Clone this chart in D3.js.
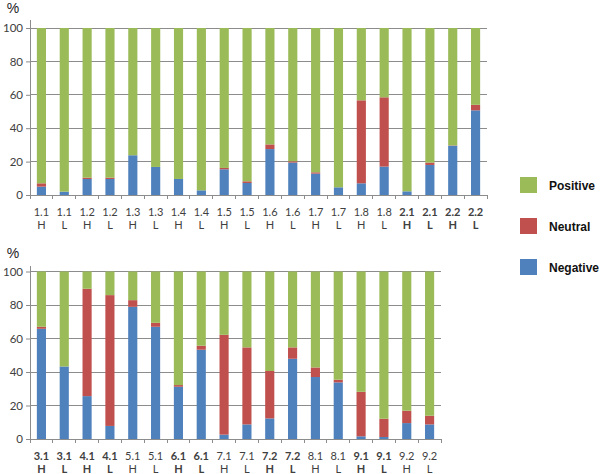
<!DOCTYPE html>
<html>
<head>
<meta charset="utf-8">
<script src="https://cdn.jsdelivr.net/npm/d3@7"></script>
<style>
html,body{margin:0;padding:0;background:#fff;}
svg{display:block;}
</style>
</head>
<body>
<svg id="chart" width="600" height="474"></svg>
<script>
// ---- Data ----
const topCodes   = ["1.1","1.1","1.2","1.2","1.3","1.3","1.4","1.4","1.5","1.5","1.6","1.6","1.7","1.7","1.8","1.8","2.1","2.1","2.2","2.2"];
const topLevels  = ["H","L","H","L","H","L","H","L","H","L","H","L","H","L","H","L","H","L","H","L"];
const topBold    = [0,0,0,0,0,0,0,0,0,0,0,0,0,0,0,0,1,1,1,1];
const topNegative= [5,2,9.6,9.6,23.8,16.8,9.6,2.8,15.4,7.2,27.5,19.4,12.8,4.6,7,17,2.2,18,29.5,50.7];
const topNeutral = [2,0,0.8,0.8,0,0,0,0,0.8,1,2.8,0.8,0.8,0,49.7,41.5,0,1.4,0.2,3.3];

const botCodes   = ["3.1","3.1","4.1","4.1","5.1","5.1","6.1","6.1","7.1","7.1","7.2","7.2","8.1","8.1","9.1","9.1","9.2","9.2"];
const botLevels  = ["H","L","H","L","H","L","H","L","H","L","H","L","H","L","H","L","H","L"];
const botBold    = [1,1,1,1,0,0,1,1,0,0,1,1,0,0,1,1,0,0];
const botNegative= [65.8,43.3,25.6,7.8,78.9,67,31.2,53.3,2.6,8.7,12.3,47.9,37,33.8,1.6,1.2,9.5,8.7];
const botNeutral = [1.2,0,64.1,78.1,4,2.4,1,2.4,59.6,46,28.3,6.8,5.7,1.6,26.6,10.9,7.4,5.2];

const yTicks = [0,20,40,60,80,100];
const seriesNames = ["Positive","Neutral","Negative"];
const seriesColors = {Positive:"#9BBB59", Neutral:"#C0504D", Negative:"#4F81BD"};

// ---- Drawing ----
const svg = d3.select("#chart");
const gridColor = "#8c8c8c";
const textColor = "#404040";
const labelFont = "Lato, 'Open Sans', sans-serif";

function panel(cfg){
  const {codes, levels, bold, neg, neu, x0, x1, yTop, yBase, axisTop, pctY} = cfg;
  const data = codes.map((c,i)=>({id:i, code:c, level:levels[i], bold:bold[i],
    Negative:neg[i], Neutral:neu[i], Positive:Math.max(0,100-neg[i]-neu[i])}));
  const x = d3.scaleBand().domain(data.map(d=>d.id)).range([x0,x1]).paddingInner(0.6).paddingOuter(0.3);
  const y = d3.scaleLinear().domain([0,100]).range([yBase,yTop]);
  const g = svg.append("g");

  // gridlines
  g.selectAll("line.grid").data(yTicks.filter(t=>t>0)).join("line")
    .attr("x1",x0).attr("x2",x1).attr("y1",d=>y(d)).attr("y2",d=>y(d))
    .attr("stroke",gridColor).attr("stroke-width",1).attr("shape-rendering","crispEdges");

  // stacked bars
  const stack = d3.stack().keys(["Negative","Neutral","Positive"]);
  const layers = stack(data);
  g.selectAll("g.layer").data(layers).join("g")
    .attr("fill",d=>seriesColors[d.key])
    .selectAll("rect").data(d=>d).join("rect")
    .attr("x",d=>x(d.data.id)).attr("width",x.bandwidth())
    .attr("y",d=>y(d[1])).attr("height",d=>Math.max(0,y(d[0])-y(d[1])));

  // y axis
  const yAxis = g.append("g").attr("transform",`translate(${x0},0)`)
    .call(d3.axisLeft(y).tickValues(yTicks).tickSize(4).tickPadding(3));
  yAxis.select(".domain").remove();
  yAxis.selectAll(".tick line").attr("stroke",gridColor);
  yAxis.selectAll("text").attr("fill",textColor).style("font-family",labelFont).style("font-size","11.5px");
  g.append("line").attr("x1",x0).attr("x2",x0).attr("y1",axisTop).attr("y2",yBase)
    .attr("stroke",gridColor).attr("shape-rendering","crispEdges");

  // x axis
  const xb = d3.scaleLinear().domain([0,data.length]).range([x0,x1]);
  g.append("line").attr("x1",x0).attr("x2",x1).attr("y1",yBase).attr("y2",yBase)
    .attr("stroke",gridColor).attr("shape-rendering","crispEdges");
  g.selectAll("line.xt").data(d3.range(data.length+1)).join("line")
    .attr("x1",d=>xb(d)).attr("x2",d=>xb(d)).attr("y1",yBase).attr("y2",yBase+4)
    .attr("stroke",gridColor).attr("shape-rendering","crispEdges");
  const lab = g.selectAll("text.xl").data(data).join("text")
    .attr("text-anchor","middle").attr("fill",textColor)
    .style("font-family",labelFont).style("font-size","11px")
    .style("font-weight",d=>d.bold?"bold":"normal");
  lab.append("tspan").attr("x",d=>x(d.id)+x.bandwidth()/2).attr("y",yBase+21).text(d=>d.code);
  lab.append("tspan").attr("x",d=>x(d.id)+x.bandwidth()/2).attr("y",yBase+34).text(d=>d.level);

  // % label
  g.append("text").attr("x",13).attr("y",pctY).attr("text-anchor","middle")
    .attr("fill","#222").style("font-family","'Liberation Sans', Arial, sans-serif").style("font-size","14px").text("%");
}

panel({codes:topCodes, levels:topLevels, bold:topBold, neg:topNegative, neu:topNeutral,
  x0:30, x1:487, yTop:28, yBase:195, axisTop:20, pctY:13});
panel({codes:botCodes, levels:botLevels, bold:botBold, neg:botNegative, neu:botNeutral,
  x0:30, x1:441, yTop:271.5, yBase:439, axisTop:266, pctY:258});

// legend
const leg = svg.append("g");
const legY = d3.scalePoint().domain(seriesNames).range([185,267]);
leg.selectAll("rect").data(seriesNames).join("rect")
  .attr("x",520).attr("y",d=>legY(d)-8).attr("width",17).attr("height",16)
  .attr("fill",d=>seriesColors[d]);
leg.selectAll("text").data(seriesNames).join("text")
  .attr("x",549).attr("y",d=>legY(d)+4.5)
  .attr("fill","#111").style("font-family","'Liberation Sans', Arial, sans-serif")
  .style("font-size","12px").style("font-weight","bold").text(d=>d);
</script>
</body>
</html>
